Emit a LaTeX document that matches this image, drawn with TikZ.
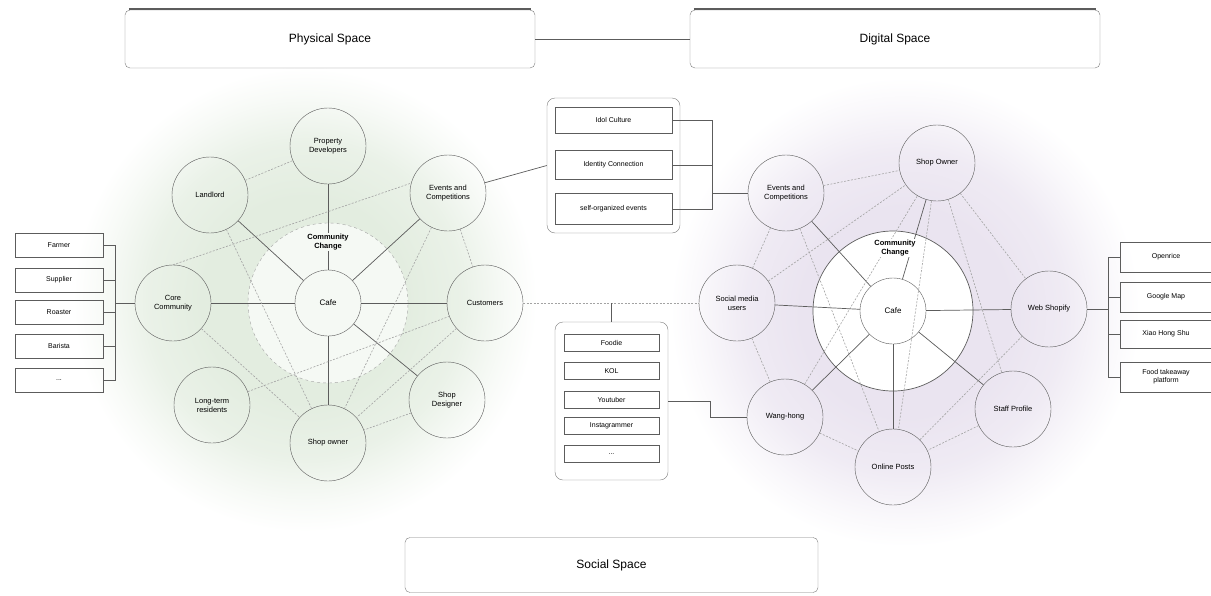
\documentclass[tikz,border=0pt]{standalone}
\usepackage{fontspec}
\setmainfont{Liberation Sans}
\usetikzlibrary{positioning, calc}
\definecolor{inkgray}{HTML}{5C5C5C}
\definecolor{linkgray}{HTML}{A3A3A3}
\definecolor{leafglow}{HTML}{E3EDE0}
\definecolor{lilacglow}{HTML}{EAE4F0}
\pgfdeclareradialshading{leafhalo}{\pgfpoint{0bp}{0bp}}{color(0bp)=(leafglow); color(11bp)=(leafglow); color(17bp)=(leafglow!75); color(22bp)=(leafglow!25); color(25bp)=(white); color(50bp)=(white)}
\pgfdeclareradialshading{lilachalo}{\pgfpoint{0bp}{0bp}}{color(0bp)=(lilacglow); color(11bp)=(lilacglow); color(17bp)=(lilacglow!75); color(22bp)=(lilacglow!25); color(25bp)=(white); color(50bp)=(white)}
\tikzset{
  actor/.style={circle, draw=inkgray, minimum size=76pt, inner sep=1pt, align=center, font=\fontsize{7.5}{9}\selectfont},
  hub/.style={circle, draw=inkgray, minimum size=66pt, inner sep=1pt, font=\fontsize{8}{9}\selectfont},
  spacebox/.style={draw=inkgray!80, rounded corners=5pt, minimum width=410pt, minimum height=58pt, font=\fontsize{12}{14}\selectfont},
  groupbox/.style={draw=inkgray!80, rounded corners=8pt},
  listbox/.style={draw=inkgray, minimum width=88pt, minimum height=24pt, inner sep=1pt, align=center, font=\fontsize{7}{8}\selectfont},
  change/.style={font=\bfseries\fontsize{7.5}{8.5}\selectfont, align=center, inner sep=1pt},
  tie/.style={draw=inkgray, line width=0.7pt},
  weak/.style={draw=linkgray, dash pattern=on 2pt off 1.5pt, line width=0.6pt},
}

\begin{document}
\begin{tikzpicture}[x=1pt, y=-1pt]
  \useasboundingbox (0,0) rectangle (1211,595);
  % halos and rings
  \shade[shading=leafhalo] (305,300) circle (232pt);
  \shade[shading=lilachalo] (905,312) circle (235pt);
  \draw[linkgray, dashed, fill=leafglow!35] (328,303) circle (80pt);
  \draw[inkgray, line width=0.7pt, fill=white] (893,311) circle (80pt);

  % spaces
  \node[spacebox, fill=white] (physical) at (330,39) {Physical Space};
  \node[spacebox, fill=white] (digital) at (895,39) {Digital Space};
  \node[spacebox, fill=white, minimum width=413pt, minimum height=55pt] (socialsp) at (611.5,565) {Social Space};
  \draw[inkgray, line width=1.4pt] ([xshift=4pt,yshift=1pt]physical.north west) -- ([xshift=-4pt,yshift=1pt]physical.north east);
  \draw[inkgray, line width=1.4pt] ([xshift=4pt,yshift=1pt]digital.north west) -- ([xshift=-4pt,yshift=1pt]digital.north east);
  \draw[tie] (physical) -- (digital);

  % physical cluster
  \node[hub] (cafeL) at (328,303) {Cafe};
  \node[actor] (propdev) at (328,146) {Property\\Developers};
  \node[actor] (landlord) at (210,195) {Landlord};
  \node[actor] (eventsL) at (448,193) {Events and\\Competitions};
  \node[actor] (core) at (173,303) {Core\\Community};
  \node[actor] (customers) at (485,303) {Customers};
  \node[actor] (longterm) at (212,405) {Long-term\\residents};
  \node[actor] (shopownL) at (328,443) {Shop owner};
  \node[actor] (designer) at (447,400) {Shop\\Designer};
  \foreach \n in {propdev,landlord,eventsL,core,customers,shopownL,designer}
    \draw[tie] (cafeL) -- (\n);
  \foreach \a/\b in {landlord/propdev, landlord/shopownL, core/shopownL,
    longterm/customers, eventsL/customers, eventsL/shopownL, customers/shopownL, designer/shopownL}
    \draw[weak] (\a) -- (\b);
  \draw[weak] (core.north) -- (eventsL.165);
  \node[change, fill=leafglow!35] (changeL) at (328,242) {Community\\Change};

  % digital cluster
  \node[hub] (cafeR) at (893,311) {Cafe};
  \node[actor] (shopownR) at (937,163) {Shop Owner};
  \node[actor] (eventsR) at (786,193) {Events and\\Competitions};
  \node[actor] (social) at (737,303) {Social media\\users};
  \node[actor] (webshop) at (1049,309) {Web Shopify};
  \node[actor] (wanghong) at (785,417) {Wang-hong};
  \node[actor] (posts) at (893,467) {Online Posts};
  \node[actor] (staff) at (1013,409) {Staff Profile};
  \foreach \n in {shopownR,eventsR,social,webshop,wanghong,posts,staff}
    \draw[tie] (cafeR) -- (\n);
  \foreach \a/\b in {eventsR/shopownR, eventsR/social, social/shopownR, eventsR/posts,
    social/wanghong, wanghong/posts, wanghong/shopownR, shopownR/staff, shopownR/posts,
    shopownR/webshop, webshop/posts, staff/posts}
    \draw[weak] (\a) -- (\b);
  \node[change, fill=white] (changeR) at (895,248) {Community\\Change};

  % supply chain list
  \node[listbox] (farmer) at (59,245) {Farmer};
  \node[listbox] (supplier) at (59,280) {Supplier};
  \node[listbox] (roaster) at (59,312) {Roaster};
  \node[listbox] (barista) at (59,346) {Barista};
  \node[listbox] (moreL) at (59,380) {...};
  \coordinate (lbr) at (115,303);
  \foreach \b in {farmer,supplier,roaster,barista,moreL}
    \draw[tie] (\b.east) -| (lbr);
  \draw[tie] (lbr) -- (core);

  % platform list
  \node[listbox, minimum width=92pt, minimum height=30pt] (openrice) at (1166,257) {Openrice};
  \node[listbox, minimum width=92pt, minimum height=30pt] (gmap) at (1166,297) {Google Map};
  \node[listbox, minimum width=92pt, minimum height=28pt] (xhs) at (1166,334) {Xiao Hong Shu};
  \node[listbox, minimum width=92pt, minimum height=30pt] (takeaway) at (1166,377) {Food takeaway\\platform};
  \coordinate (rbr) at (1108,309);
  \foreach \b in {openrice,gmap,xhs,takeaway}
    \draw[tie] (\b.west) -| (rbr);
  \draw[tie] (rbr) -- (webshop);

  % shared culture group
  \node[groupbox, fill=white, minimum width=133pt, minimum height=135pt] (culture) at (613.5,165.5) {};
  \node[listbox, minimum width=117pt, minimum height=26pt] (idol) at (613.5,120) {Idol Culture};
  \node[listbox, minimum width=117pt, minimum height=29pt] (identity) at (613.5,165) {Identity Connection};
  \node[listbox, minimum width=117pt, minimum height=31pt] (selforg) at (613.5,209) {self-organized events};
  \draw[tie] (eventsL) -- (culture.west);
  \coordinate (cj) at (712,193);
  \foreach \b in {idol,identity,selforg}
    \draw[tie] (\b.east) -| (cj);
  \draw[tie] (cj) -- (eventsR);

  % influencer group
  \node[groupbox, fill=white, minimum width=113pt, minimum height=158pt] (media) at (611.5,401) {};
  \node[listbox, minimum width=95pt, minimum height=17pt] (foodie) at (611.5,343) {Foodie};
  \node[listbox, minimum width=95pt, minimum height=17pt] (kol) at (611.5,371) {KOL};
  \node[listbox, minimum width=95pt, minimum height=17pt] (youtuber) at (611.5,400) {Youtuber};
  \node[listbox, minimum width=95pt, minimum height=17pt] (insta) at (611.5,426) {Instagrammer};
  \node[listbox, minimum width=95pt, minimum height=17pt] (moreM) at (611.5,454) {...};
  \draw[weak] (customers) -- (social);
  \draw[tie] (media.north) -- (media.north |- customers);
  \draw[tie] (media.east) -- ++(42,0) |- (wanghong);
\end{tikzpicture}
\end{document}
